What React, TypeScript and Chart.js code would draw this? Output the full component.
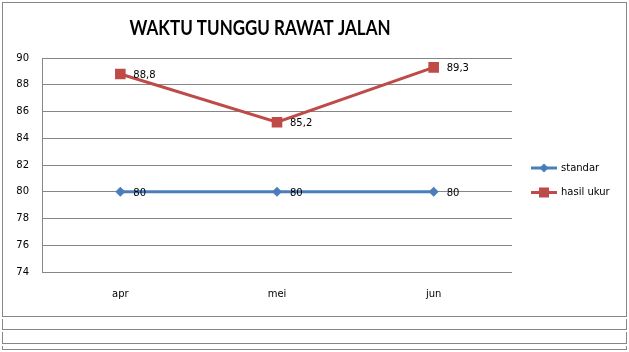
import React, { useEffect, useRef } from "react";
import { Chart, registerables } from "chart.js";

Chart.register(...registerables);

const title = "WAKTU TUNGGU RAWAT JALAN";
const categories = ["apr", "mei", "jun"];
const standarValues = [80, 80, 80];
const hasilUkurValues = [88.8, 85.2, 89.3];
const yMin = 74;
const yMax = 90;
const yStep = 2;

const BLUE = "#4a7ebb";
const RED = "#be4b48";
const GRID = "#868686";
const FONT = "DejaVu Sans";

const fmt = (v: number) => String(v).replace(".", ",");

const labelPlugin = {
  id: "valueLabels",
  afterDatasetsDraw(chart: any) {
    const ctx = chart.ctx;
    ctx.save();
    ctx.font = `10px "${FONT}"`;
    ctx.fillStyle = "#000";
    ctx.textAlign = "left";
    ctx.textBaseline = "middle";
    chart.data.datasets.forEach((ds: any, i: number) => {
      const meta = chart.getDatasetMeta(i);
      meta.data.forEach((pt: any, j: number) => {
        ctx.fillText(fmt(ds.data[j]), pt.x + 13, pt.y + 1.5);
      });
    });
    ctx.restore();
  },
};

const titleLegendPlugin = {
  id: "titleLegend",
  afterDraw(chart: any) {
    const ctx = chart.ctx;
    ctx.save();
    // title
    ctx.font = `bold 20px Lato, "Liberation Sans", sans-serif`;
    ctx.fillStyle = "#000";
    ctx.textBaseline = "alphabetic";
    ctx.textAlign = "center";
    const w = ctx.measureText(title).width;
    const target = 261;
    const cx = 260;
    ctx.translate(cx, 35);
    ctx.scale(target / w, 1);
    ctx.fillText(title, 0, 0);
    ctx.restore();

    // legend
    ctx.save();
    const items = chart.data.datasets.map((ds: any) => ({
      label: ds.label,
      color: ds.borderColor,
      style: ds.pointStyle,
    }));
    items.forEach((it: any, k: number) => {
      const y = 168 + k * 24.5;
      ctx.strokeStyle = it.color;
      ctx.lineWidth = 3;
      ctx.beginPath();
      ctx.moveTo(531, y);
      ctx.lineTo(557, y);
      ctx.stroke();
      ctx.fillStyle = it.color;
      ctx.beginPath();
      if (it.style === "rect") {
        ctx.rect(544 - 5, y - 5, 10, 10);
      } else {
        ctx.moveTo(544, y - 4.5);
        ctx.lineTo(548.5, y);
        ctx.lineTo(544, y + 4.5);
        ctx.lineTo(539.5, y);
        ctx.closePath();
      }
      ctx.fill();
      ctx.font = `10px "${FONT}"`;
      ctx.fillStyle = "#000";
      ctx.textAlign = "left";
      ctx.textBaseline = "middle";
      ctx.fillText(it.label, 561, y);
    });
    ctx.restore();
  },
};

export default function App() {
  const ref = useRef<HTMLCanvasElement | null>(null);

  useEffect(() => {
    if (!ref.current) return;
    const chart = new Chart(ref.current, {
      type: "line",
      data: {
        labels: categories,
        datasets: [
          {
            label: "standar",
            data: standarValues,
            borderColor: BLUE,
            backgroundColor: BLUE,
            borderWidth: 3,
            pointStyle: "rectRot",
            pointRadius: 5,
            pointBorderWidth: 0,
            pointBackgroundColor: BLUE,
            tension: 0,
          },
          {
            label: "hasil ukur",
            data: hasilUkurValues,
            borderColor: RED,
            backgroundColor: RED,
            borderWidth: 3,
            pointStyle: "rect",
            pointRadius: 7.5,
            pointBorderWidth: 0,
            pointBackgroundColor: RED,
            tension: 0,
          },
        ],
      },
      options: {
        animation: false,
        responsive: false,
        maintainAspectRatio: false,
        layout: { padding: { left: 0, top: 58, right: 117, bottom: 0 } },
        plugins: {
          legend: { display: false },
          title: { display: false },
          tooltip: { enabled: false },
        },
        scales: {
          x: {
            type: "category",
            offset: true,
            grid: { display: false, drawTicks: false },
            border: { display: false },
            ticks: {
              padding: 16,
              color: "#000",
              font: { family: FONT, size: 10 },
            },
            afterFit: (s: any) => {
              s.height = 46;
            },
          },
          y: {
            min: yMin,
            max: yMax,
            grid: { color: GRID, lineWidth: 1, drawTicks: false },
            border: { display: true, color: GRID, width: 1 },
            ticks: {
              stepSize: yStep,
              padding: 13,
              color: "#000",
              font: { family: FONT, size: 10 },
            },
            afterFit: (s: any) => {
              s.width = 42;
            },
          },
        },
      },
      plugins: [labelPlugin, titleLegendPlugin],
    });
    return () => chart.destroy();
  }, []);

  const strip = (top: number, height: number) => (
    <div
      style={{
        position: "absolute",
        left: 2,
        top,
        width: 625,
        height,
        boxSizing: "border-box",
        borderLeft: `1px solid ${GRID}`,
        borderRight: `1px solid ${GRID}`,
        borderBottom: `1px solid ${GRID}`,
      }}
    />
  );

  return (
    <div
      style={{
        position: "fixed",
        left: 0,
        top: 0,
        width: 629,
        height: 352,
        background: "#fff",
        overflow: "hidden",
      }}
    >
      <div
        style={{
          position: "absolute",
          left: 2,
          top: 2,
          width: 625,
          height: 315,
          boxSizing: "border-box",
          border: `1px solid ${GRID}`,
        }}
      />
      {strip(319, 11)}
      {strip(332, 12)}
      {strip(346, 4)}
      <canvas
        ref={ref}
        width={629}
        height={318}
        style={{ position: "absolute", left: 0, top: 0, width: 629, height: 318 }}
      />
    </div>
  );
}
